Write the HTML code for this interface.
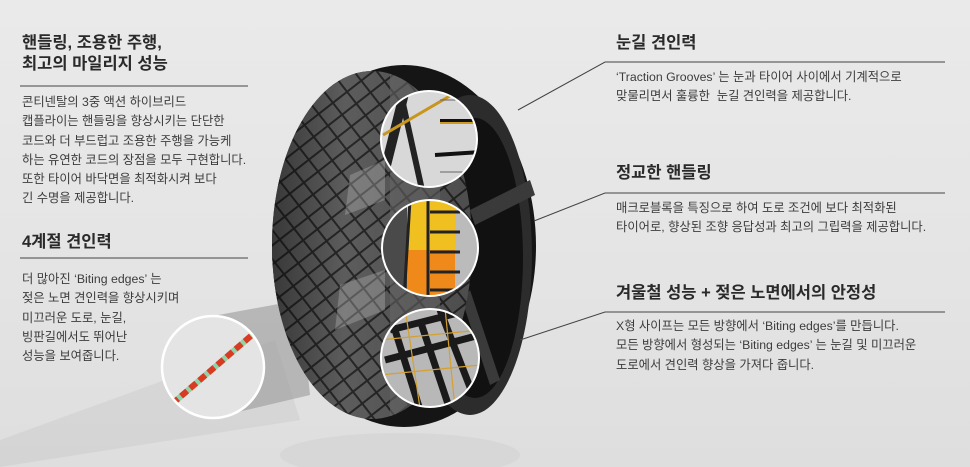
<!DOCTYPE html>
<html><head><meta charset="utf-8"><style>
html,body{margin:0;padding:0}
body{width:970px;height:467px;overflow:hidden;position:relative;background:linear-gradient(180deg,#eaeaea 0%,#e4e4e4 60%,#dedede 100%);font-family:"Liberation Sans","Noto Sans CJK KR",sans-serif;color:#333}
.t{position:absolute;white-space:nowrap}
.h{font-size:16.5px;font-weight:bold;color:#2a2a2a;line-height:21px}
.b{font-size:12.3px;color:#3c3c3c;line-height:19.3px}
svg{position:absolute;left:0;top:0}
</style></head><body>
<svg width="970" height="467" viewBox="0 0 970 467">
<defs>
<clipPath id="tread"><ellipse cx="372" cy="245" rx="100" ry="174"/></clipPath>
<pattern id="tp" width="18" height="15" patternUnits="userSpaceOnUse" patternTransform="rotate(-38)">
<rect width="18" height="15" fill="#5c5c5c"/><rect x="0" y="0" width="18" height="2" fill="#262626"/><rect x="0" y="0" width="2" height="15" fill="#262626"/></pattern>
<linearGradient id="shade" x1="0" x2="1"><stop offset="0" stop-color="#000" stop-opacity="0.45"/><stop offset="0.35" stop-color="#000" stop-opacity="0"/><stop offset="1" stop-color="#000" stop-opacity="0.2"/></linearGradient>
<clipPath id="c1"><circle cx="429" cy="139" r="48"/></clipPath>
<clipPath id="c2"><circle cx="430" cy="248" r="48"/></clipPath>
<clipPath id="c3"><circle cx="430" cy="358" r="49"/></clipPath>
<clipPath id="c4"><circle cx="213" cy="367" r="51"/></clipPath>
</defs>
<polygon points="0,440 275,340 300,420 0,467" fill="#c4c4c4" opacity="0.35"/>
<polygon points="213,316 300,300 310,395 213,418" fill="#9a9a9a" opacity="0.6"/>
<ellipse cx="400" cy="455" rx="120" ry="22" fill="#d2d2d2" opacity="0.6"/>
<!-- tire -->
<ellipse cx="404" cy="246" rx="132" ry="181" fill="#151515"/>
<ellipse cx="470" cy="255" rx="62" ry="160" fill="#2c2c2c"/>
<ellipse cx="475" cy="258" rx="48" ry="140" fill="#111"/>
<polygon points="470,210 530,180 535,195 475,225" fill="#3a3a3a"/>
<polygon points="470,290 500,380 490,385 462,300" fill="#3a3a3a"/>
<ellipse cx="372" cy="245" rx="100" ry="174" fill="#444"/>
<g clip-path="url(#tread)"><rect x="260" y="60" width="240" height="380" fill="url(#tp)"/>
<rect x="390" y="60" width="50" height="380" fill="#6a6a6a" opacity="0.6"/>
<rect x="260" y="60" width="240" height="380" fill="url(#shade)"/></g>
<polygon points="350,175 385,160 385,200 345,215" fill="#bbb" opacity="0.35"/>
<polygon points="340,285 385,270 385,310 335,330" fill="#bbb" opacity="0.35"/>
<!-- circle 1 -->
<g clip-path="url(#c1)"><rect x="380" y="90" width="100" height="100" fill="#d8d8d8"/>
<polygon points="400,90 410,90 385,190 375,190" fill="#222"/>
<line x1="400" y1="90" x2="422" y2="190" stroke="#222" stroke-width="6"/>
<line x1="383" y1="135" x2="460" y2="90" stroke="#c8961e" stroke-width="3"/>
<line x1="440" y1="121" x2="480" y2="121" stroke="#111" stroke-width="4"/><line x1="440" y1="123" x2="480" y2="123" stroke="#d09a20" stroke-width="2"/>
<line x1="435" y1="155" x2="480" y2="152" stroke="#111" stroke-width="4"/>
<line x1="440" y1="100" x2="480" y2="100" stroke="#666" stroke-width="1"/>
<line x1="440" y1="172" x2="480" y2="172" stroke="#666" stroke-width="1"/></g>
<circle cx="429" cy="139" r="48" fill="none" stroke="#fff" stroke-width="2"/>
<!-- circle 2 -->
<g clip-path="url(#c2)"><rect x="380" y="200" width="100" height="100" fill="#4a4a4a"/>
<rect x="407" y="200" width="48" height="50" fill="#f0c020"/><rect x="407" y="250" width="48" height="50" fill="#ef8a1a"/>
<rect x="455" y="200" width="30" height="100" fill="#bbb"/>
<g stroke="#222" stroke-width="3"><line x1="430" y1="212" x2="460" y2="212"/><line x1="430" y1="232" x2="460" y2="232"/><line x1="430" y1="252" x2="460" y2="252"/><line x1="430" y1="272" x2="460" y2="272"/><line x1="430" y1="290" x2="460" y2="290"/>
<line x1="410" y1="200" x2="404" y2="300"/><line x1="428" y1="200" x2="428" y2="300"/></g></g>
<circle cx="430" cy="248" r="48" fill="none" stroke="#fff" stroke-width="2"/>
<!-- circle 3 -->
<g clip-path="url(#c3)"><rect x="380" y="308" width="100" height="100" fill="#b8b8b8"/>
<g stroke="#1a1a1a" stroke-width="7"><line x1="390" y1="330" x2="470" y2="310"/><line x1="385" y1="360" x2="480" y2="335"/><line x1="420" y1="320" x2="450" y2="410"/><line x1="440" y1="310" x2="475" y2="400"/><line x1="395" y1="330" x2="420" y2="410"/></g>
<g stroke="#d4a030" stroke-width="1.2"><line x1="380" y1="340" x2="480" y2="330"/><line x1="380" y1="375" x2="480" y2="365"/><line x1="405" y1="308" x2="420" y2="408"/><line x1="445" y1="308" x2="455" y2="408"/></g></g>
<circle cx="430" cy="358" r="49" fill="none" stroke="#fff" stroke-width="2"/>
<!-- circle 4 -->
<g clip-path="url(#c4)"><rect x="160" y="315" width="110" height="110" fill="#e4e4e4"/>
<line x1="172" y1="404" x2="252" y2="335" stroke="#8fd3a9" stroke-width="6"/>
<line x1="172" y1="404" x2="252" y2="335" stroke="#d83a22" stroke-width="6" stroke-dasharray="8 4"/></g>
<circle cx="213" cy="367" r="51" fill="none" stroke="#fff" stroke-width="2.5"/>
<g stroke="#444" stroke-width="1" fill="none">
<line x1="20" y1="86" x2="248" y2="86"/>
<line x1="20" y1="258" x2="248" y2="258"/>
<polyline points="518,110 605,62 945,62"/>
<polyline points="534,221 605,193 945,193"/>
<polyline points="520,340 605,312 945,312"/>
</g>
</svg>
<div class="t h" style="left:22px;top:33px">핸들링, 조용한 주행,</div>
<div class="t h" style="left:22px;top:54px">최고의 마일리지 성능</div>
<div class="t b" style="left:22px;top:93px">콘티넨탈의 3중 액션 하이브리드<br>캡플라이는 핸들링을 향상시키는 단단한<br>코드와 더 부드럽고 조용한 주행을 가능케<br>하는 유연한 코드의 장점을 모두 구현합니다.<br>또한 타이어 바닥면을 최적화시켜 보다<br>긴 수명을 제공합니다.</div>
<div class="t h" style="left:22px;top:232px">4계절 견인력</div>
<div class="t b" style="left:22px;top:270px">더 많아진 ‘Biting edges’ 는<br>젖은 노면 견인력을 향상시키며<br>미끄러운 도로, 눈길,<br>빙판길에서도 뛰어난<br>성능을 보여줍니다.</div>
<div class="t h" style="left:616px;top:33px">눈길 견인력</div>
<div class="t b" style="left:616px;top:68px">‘Traction Grooves’ 는 눈과 타이어 사이에서 기계적으로<br>맞물리면서 훌륭한&nbsp; 눈길 견인력을 제공합니다.</div>
<div class="t h" style="left:616px;top:163px">정교한 핸들링</div>
<div class="t b" style="left:616px;top:199px">매크로블록을 특징으로 하여 도로 조건에 보다 최적화된<br>타이어로, 향상된 조향 응답성과 최고의 그립력을 제공합니다.</div>
<div class="t h" style="left:616px;top:283px">겨울철 성능 + 젖은 노면에서의 안정성</div>
<div class="t b" style="left:616px;top:317px">X형 사이프는 모든 방향에서 ‘Biting edges’를 만듭니다.<br>모든 방향에서 형성되는 ‘Biting edges’ 는 눈길 및 미끄러운<br>도로에서 견인력 향상을 가져다 줍니다.</div>
</body></html>
